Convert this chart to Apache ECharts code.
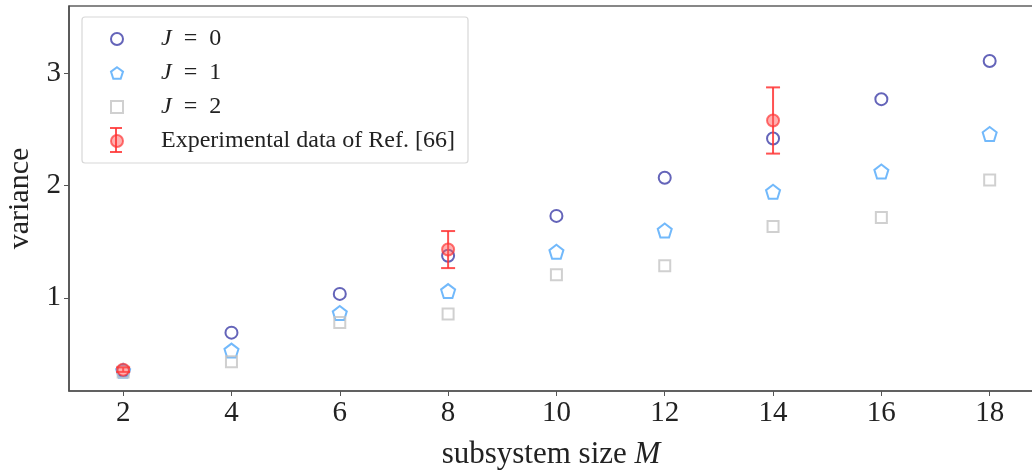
<!DOCTYPE html>
<html>
<head>
<meta charset="utf-8">
<script src="https://cdn.jsdelivr.net/npm/echarts@6/dist/echarts.min.js"></script>
<style>
  html, body { margin: 0; padding: 0; background: #fff; }
  #chart { width: 1032px; height: 472px; }
</style>
</head>
<body>
<div id="chart"></div>
<script>
// subsystem sizes and the read-off variances
var sizes = [2, 4, 6, 8, 10, 12, 14, 16, 18];
var j0 = [0.35, 0.69, 1.035, 1.375, 1.73, 2.07, 2.42, 2.77, 3.11];
var j1 = [0.35, 0.53, 0.865, 1.06, 1.41, 1.60, 1.945, 2.125, 2.46];
var j2 = [0.34, 0.43, 0.78, 0.857, 1.205, 1.285, 1.635, 1.715, 2.05];
// experimental points with error bars
var expX = [2, 8, 14];
var expY = [0.36, 1.43, 2.58];
var expErr = [0.02, 0.165, 0.295];
var xTicks = [2, 4, 6, 8, 10, 12, 14, 16, 18];
var yTicks = [1, 2, 3];

var serif = '"Liberation Serif", "DejaVu Serif", serif';
var pentagon = 'path://M0,-1 L0.951,-0.309 L0.588,0.809 L-0.588,0.809 L-0.951,-0.309 Z';
var red = 'rgba(255,50,50,0.85)';
var redFill = 'rgba(255,90,90,0.6)';

function pairs(xs, ys) {
    return xs.map(function (x, i) { return [x, ys[i]]; });
}

var chart = echarts.init(document.getElementById('chart'));

var option = {
    animation: false,
    backgroundColor: '#fff',
    textStyle: { fontFamily: serif },
    grid: {
        left: 69, right: -1, top: 6, bottom: 81,
        outerBoundsMode: 'none',
        containLabel: false,
        show: true, borderColor: '#111', borderWidth: 1.2
    },
    graphic: [
        {
            type: 'rect',
            shape: { x: 82, y: 17, width: 386, height: 146, r: 3 },
            style: { fill: 'rgba(255,255,255,0.85)', stroke: '#d8d8d8', lineWidth: 1.2 },
            z: 90
        },
        // error bar drawn on the legend's experimental marker
        { type: 'line', shape: { x1: 116, y1: 128, x2: 116, y2: 152 }, style: { stroke: red, lineWidth: 2 }, z: 101 },
        { type: 'line', shape: { x1: 110, y1: 128, x2: 122, y2: 128 }, style: { stroke: red, lineWidth: 2 }, z: 101 },
        { type: 'line', shape: { x1: 110, y1: 152, x2: 122, y2: 152 }, style: { stroke: red, lineWidth: 2 }, z: 101 }
    ],
    legend: {
        orient: 'vertical',
        left: 110, top: 27,
        padding: 0,
        itemWidth: 12, itemHeight: 12,
        itemGap: 10,
        z: 100,
        textStyle: {
            fontFamily: serif, fontSize: 24, color: '#222',
            rich: {
                s: { width: 33 },
                i: { fontStyle: 'italic', fontFamily: serif, fontSize: 24, color: '#222' }
            }
        },
        formatter: function (name) {
            if (name.indexOf('J') === 0) {
                return '{s|}{i|J}  =  ' + name.slice(2);
            }
            return '{s|}' + name;
        },
        data: [
            { name: 'J 0', icon: 'circle' },
            { name: 'J 1', icon: pentagon },
            { name: 'J 2', icon: 'rect' },
            { name: 'Experimental data of Ref. [66]', icon: 'circle' }
        ]
    },
    xAxis: {
        type: 'value',
        min: 1, max: 18.8,
        name: 'subsystem size {i|M}',
        nameLocation: 'middle',
        nameGap: 48,
        nameTextStyle: {
            fontFamily: serif, fontSize: 31, color: '#222',
            rich: { i: { fontStyle: 'italic', fontFamily: serif, fontSize: 31, color: '#222' } }
        },
        axisLine: { lineStyle: { color: '#555', width: 1.5 } },
        axisTick: { show: true, length: 5, customValues: xTicks, lineStyle: { color: '#555' } },
        axisLabel: { customValues: xTicks, fontFamily: serif, fontSize: 29, color: '#222', margin: 8 },
        splitLine: { show: false }
    },
    yAxis: {
        type: 'value',
        min: 0.17, max: 3.6,
        name: 'variance',
        nameLocation: 'middle',
        nameGap: 34,
        nameTextStyle: { fontFamily: serif, fontSize: 30, color: '#222' },
        axisLine: { show: true, lineStyle: { color: '#555', width: 1.5 } },
        axisTick: { show: true, length: 5, customValues: yTicks, lineStyle: { color: '#555' } },
        axisLabel: { customValues: yTicks, fontFamily: serif, fontSize: 29, color: '#222', margin: 8 },
        splitLine: { show: false }
    },
    series: [
        {
            name: 'J 0', type: 'scatter', data: pairs(sizes, j0),
            symbol: 'circle', symbolSize: 12,
            itemStyle: { color: 'rgba(0,0,0,0)', borderColor: '#3d3da8', borderWidth: 2 }
        },
        {
            name: 'J 1', type: 'scatter', data: pairs(sizes, j1),
            symbol: pentagon, symbolSize: 14,
            itemStyle: { color: 'rgba(0,0,0,0)', borderColor: '#4fa8fa', borderWidth: 2 }
        },
        {
            name: 'J 2', type: 'scatter', data: pairs(sizes, j2),
            symbol: 'rect', symbolSize: 11,
            itemStyle: { color: 'rgba(0,0,0,0)', borderColor: '#c4c4c4', borderWidth: 2 }
        },
        {
            name: 'errbars', type: 'custom',
            data: expX.map(function (x, i) { return [x, expY[i] - expErr[i], expY[i] + expErr[i]]; }),
            renderItem: function (params, api) {
                var lo = api.coord([api.value(0), api.value(1)]);
                var hi = api.coord([api.value(0), api.value(2)]);
                var cap = 7;
                var st = { stroke: red, lineWidth: 2 };
                return {
                    type: 'group',
                    children: [
                        { type: 'line', shape: { x1: lo[0], y1: lo[1], x2: hi[0], y2: hi[1] }, style: st },
                        { type: 'line', shape: { x1: lo[0] - cap, y1: lo[1], x2: lo[0] + cap, y2: lo[1] }, style: st },
                        { type: 'line', shape: { x1: hi[0] - cap, y1: hi[1], x2: hi[0] + cap, y2: hi[1] }, style: st }
                    ]
                };
            },
            z: 5
        },
        {
            name: 'Experimental data of Ref. [66]', type: 'scatter', data: pairs(expX, expY),
            symbol: 'circle', symbolSize: 12,
            itemStyle: { color: redFill, borderColor: red, borderWidth: 2 },
            z: 6
        }
    ]
};

chart.setOption(option);
</script>
</body>
</html>
